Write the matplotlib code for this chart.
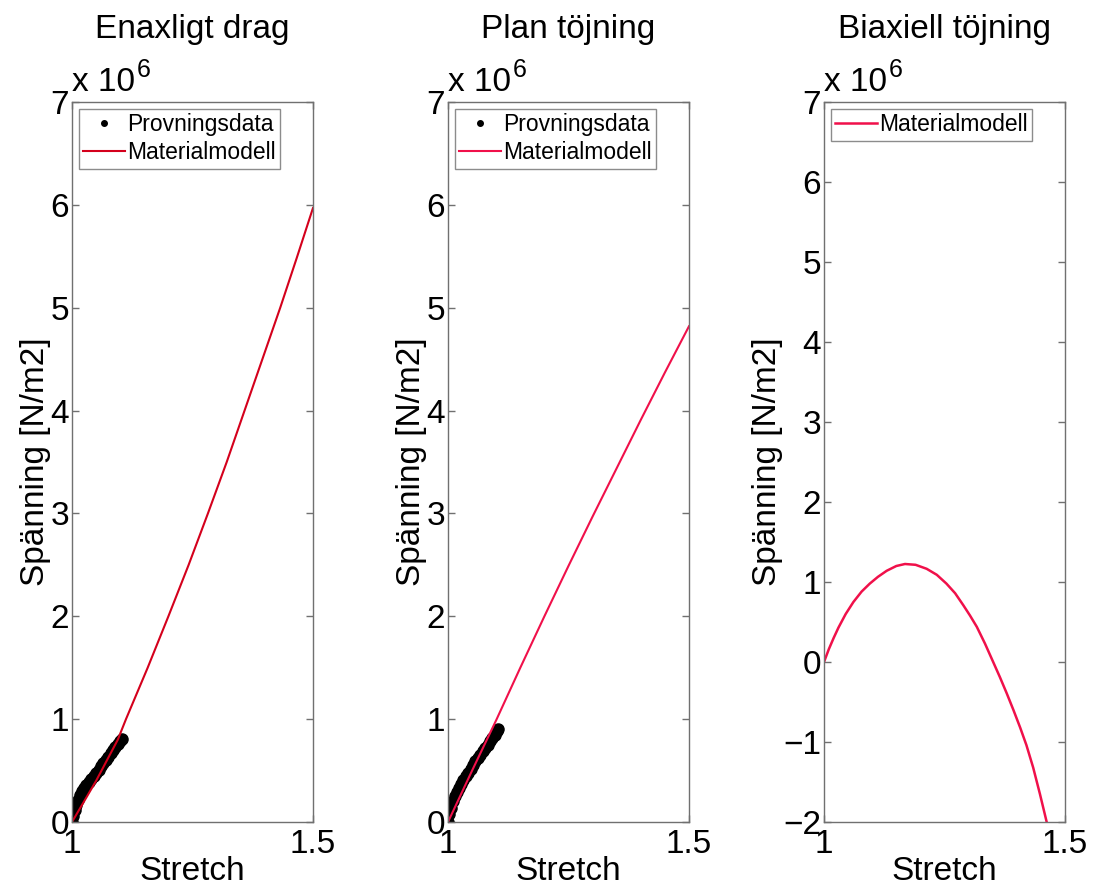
import numpy as np
import matplotlib
matplotlib.use("Agg")
import matplotlib.pyplot as plt
from matplotlib.ticker import FuncFormatter

plt.rcParams['font.family'] = ['Liberation Sans', 'DejaVu Sans']

# uniaxial tension: test data and material model [MN/m2]
uni_data_x = [1.000, 1.003, 1.006, 1.009, 1.012, 1.016, 1.020, 1.025, 1.030, 1.035,
              1.040, 1.045, 1.050, 1.055, 1.060, 1.065, 1.070, 1.075, 1.080, 1.085,
              1.090, 1.095, 1.100, 1.103]
uni_data_y = [0.00, 0.06, 0.12, 0.17, 0.21, 0.26, 0.30, 0.33, 0.36, 0.39,
              0.42, 0.45, 0.48, 0.51, 0.54, 0.57, 0.60, 0.63, 0.67, 0.70,
              0.73, 0.76, 0.79, 0.81]
uni_model_x = [1.000, 1.050, 1.095, 1.112, 1.157, 1.200, 1.242, 1.282, 1.321,
               1.358, 1.395, 1.432, 1.466, 1.500]
uni_model_y = [0.00, 0.40, 0.80, 1.00, 1.50, 2.00, 2.50, 3.00, 3.50,
               4.00, 4.50, 5.00, 5.48, 5.97]

# planar tension
pl_data_x = [1.000, 1.003, 1.006, 1.010, 1.014, 1.018, 1.022, 1.027, 1.032, 1.037,
             1.042, 1.047, 1.052, 1.057, 1.062, 1.067, 1.072, 1.077, 1.082, 1.087,
             1.092, 1.097, 1.101, 1.104]
pl_data_y = [0.00, 0.08, 0.14, 0.20, 0.25, 0.29, 0.33, 0.37, 0.41, 0.45,
             0.48, 0.52, 0.55, 0.59, 0.62, 0.65, 0.69, 0.72, 0.75, 0.79,
             0.82, 0.85, 0.88, 0.90]
pl_model_x = [1.000, 1.050, 1.100, 1.150, 1.200, 1.250, 1.300, 1.350, 1.400, 1.450, 1.500]
pl_model_y = [0.00, 0.50, 0.99, 1.50, 2.00, 2.49, 2.97, 3.44, 3.91, 4.37, 4.82]

# equibiaxial tension (model only)
bi_model_x = [1.000, 1.010, 1.020, 1.030, 1.045, 1.061, 1.078, 1.095, 1.112, 1.130,
              1.150, 1.168, 1.190, 1.213, 1.234, 1.254, 1.272, 1.289, 1.303, 1.317,
              1.334, 1.351, 1.365, 1.379, 1.393, 1.407, 1.420, 1.434, 1.448, 1.462]
bi_model_y = [0.00, 0.16, 0.30, 0.43, 0.60, 0.75, 0.88, 0.98, 1.065, 1.14,
              1.20, 1.225, 1.215, 1.165, 1.09, 0.98, 0.86, 0.71, 0.58, 0.44,
              0.23, 0.00, -0.19, -0.39, -0.60, -0.82, -1.04, -1.32, -1.65, -2.00]

titles = ['Enaxligt drag', 'Plan töjning', 'Biaxiell töjning']

fig = plt.figure(figsize=(10.97, 8.90), dpi=100)
lefts = [72 / 1097, 448 / 1097, 824 / 1097]
w = 241 / 1097
b = (890 - 822) / 890
h = 720 / 890
axs = [fig.add_axes([l, b, w, h]) for l in lefts]

red1 = '#d4001c'
red2 = '#f0104a'
M = 1e6

axs[0].plot(np.array(uni_data_x), np.array(uni_data_y) * M, 'k.', ms=16,
            label='Provningsdata')
axs[0].plot(np.array(uni_model_x), np.array(uni_model_y) * M, '-', color=red1,
            lw=1.5, label='Materialmodell')

axs[1].plot(np.array(pl_data_x), np.array(pl_data_y) * M, 'k.', ms=16,
            label='Provningsdata')
axs[1].plot(np.array(pl_model_x), np.array(pl_model_y) * M, '-', color=red2,
            lw=1.5, label='Materialmodell')

axs[2].plot(np.array(bi_model_x), np.array(bi_model_y) * M, '-', color=red2,
            lw=1.8, label='Materialmodell')

ylims = [(0, 7), (0, 7), (-2, 7)]
fmt = FuncFormatter(lambda v, p: f"{v / M:g}".replace('-', '\u2212'))

for ax, t, yl in zip(axs, titles, ylims):
    ax.set_xlim(1, 1.5)
    ax.set_ylim(yl[0] * M, yl[1] * M)
    ax.set_xticks([1, 1.5])
    ax.set_xticklabels(['1', '1.5'])
    ax.set_yticks(np.arange(yl[0], yl[1] + 1) * M)
    ax.yaxis.set_major_formatter(fmt)
    ax.tick_params(direction='in', length=5, width=1, color='#707070',
                   labelsize=24, top=True, right=True)
    ax.tick_params(axis='x', pad=5)
    ax.tick_params(axis='y', pad=2)
    for s in ax.spines.values():
        s.set_color('#707070')
        s.set_linewidth(1.0)
    ax.set_title(t, fontsize=24, pad=46)
    ax.set_xlabel('Stretch', fontsize=24, labelpad=-3)
    ax.set_ylabel('Spänning [N/m2]', fontsize=24, labelpad=0)
    # exponent label above the axes
    ax.text(0.0, 1.006, 'x 10', transform=ax.transAxes, fontsize=24,
            ha='left', va='bottom')
    ax.text(0.268, 1.028, '6', transform=ax.transAxes, fontsize=18,
            ha='left', va='bottom')
    leg = ax.legend(loc='upper left', fontsize=16.5, frameon=True, fancybox=False,
                    borderpad=0.2, labelspacing=0.2, handlelength=1.8,
                    handletextpad=0.1, borderaxespad=0.3, markerscale=0.5)
    leg.get_frame().set_edgecolor('#707070')
    leg.get_frame().set_linewidth(1.0)

fig.savefig('out.png', dpi=100)
